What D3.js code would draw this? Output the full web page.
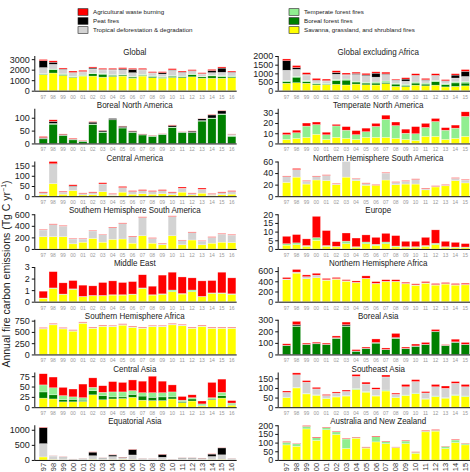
<!DOCTYPE html>
<html lang="en">
<head>
<meta charset="UTF-8">
<title>Annual fire carbon emissions by region</title>
<script src="https://d3js.org/d3.v7.min.js"></script>
<style>
  body { margin: 0; background: #fff; }
  svg { font-family: "Liberation Sans", Arial, sans-serif; display: block; }
  .ytick text { font-size: 9px; fill: #222; }
  .title { font-size: 9.4px; fill: #222; text-anchor: middle; }
  .xlab { font-size: 5px; fill: #999; text-anchor: middle; }
  .xlab-bottom { font-size: 7.5px; fill: #333; text-anchor: end; }
  .legend text { font-size: 6.2px; fill: #222; }
</style>
</head>
<body>
<div id="chart"></div>
<script>
// years shown on the x axis (1997-2016)
const years = ["97","98","99","00","01","02","03","04","05","06","07","08","09","10","11","12","13","14","15","16"];

// stack order, bottom to top
const keys = ["sav", "bor", "tem", "def", "peat", "agr"];
const labels = {
  agr: "Agricultural waste burning",
  peat: "Peat fires",
  def: "Tropical deforestation & degradation",
  tem: "Temperate forest fires",
  bor: "Boreal forest fires",
  sav: "Savanna, grassland, and shrubland fires"
};
const colors = {
  sav: "#ffff00", bor: "#008000", tem: "#90ee90",
  def: "#d3d3d3", peat: "#000000", agr: "#ff0000"
};

// Tg C per year, per region and fire type
const global = {
  sav: [1520,1680,1450,1260,1390,1390,1290,1350,1390,1190,1390,1230,1190,1260,1230,1320,1190,1190,1190,1230],
  bor: [50,320,90,60,40,220,280,120,100,110,80,130,80,120,100,200,130,220,150,100],
  tem: [50,60,60,60,60,60,60,50,50,60,80,50,60,60,60,60,50,60,80,70],
  def: [580,450,420,330,300,400,350,450,450,350,430,280,250,500,340,280,220,250,330,330],
  peat: [650,200,40,30,30,90,50,60,90,320,40,20,130,40,40,40,30,200,400,40],
  agr: [120,130,100,130,120,100,100,100,110,100,110,100,100,120,100,100,90,110,110,100]
};
const globalExAfrica = {
  sav: [430,460,430,330,340,370,330,380,340,330,400,250,230,320,280,320,220,250,280,250],
  bor: [100,320,90,60,40,220,280,120,100,110,80,130,80,120,100,200,130,200,160,100],
  tem: [50,50,60,50,50,60,60,50,50,60,80,50,60,60,60,60,50,60,80,60],
  def: [600,400,330,150,130,300,240,390,380,280,380,170,180,360,160,280,150,220,300,200],
  peat: [550,100,30,20,20,100,20,50,40,230,30,20,120,30,30,30,20,170,300,30],
  agr: [100,120,100,100,90,100,90,80,90,80,100,50,80,90,80,90,70,80,100,60]
};
const borealNA = {
  bor: [18,75,30,14,8,74,43,92,60,43,33,28,34,62,43,42,87,97,113,28],
  tem: [2,3,2,2,1,2,2,1,2,1,1,1,2,2,1,1,2,2,2,2],
  def: [0,0,0,0,0,0,0,0,0,0,0,0,0,0,0,0,0,0,0,5],
  peat: [3,8,3,1,1,7,5,4,5,4,2,1,1,6,1,5,7,12,12,1],
  agr: [4,6,2,3,2,2,1,0,1,1,1,1,1,2,1,1,1,2,2,1]
};
const temperateNA = {
  sav: [4,5,6,9,4,6,5,4,6,6,6,5,4,3,7,7,4,5,7,5],
  tem: [4.6,5.5,11,9.5,4.5,11.2,8,4.6,5.5,10.7,17.7,12.5,6,6.5,8.7,14.5,9,10,19.5,10],
  agr: [2,2.5,3,2.5,2.5,1.5,3.5,4,3.5,3,4,3.5,4,7,4,3,2.5,3,4.5,3]
};
const centralAmerica = {
  sav: [8,62,10,28,6,8,22,4,20,10,12,10,12,8,20,6,15,4,8,10],
  def: [9,95,10,20,7,9,38,6,22,13,15,13,15,9,19,7,19,6,9,13],
  peat: [0,2,0,2,0,0,0,0,0,0,0,0,0,0,0,0,0,0,0,0],
  agr: [4,13,4,6,3,4,6,3,6,4,5,4,5,4,6,3,6,3,4,4]
};
const nhSouthAmerica = {
  sav: [24,33,21,28,27,20,33,27,19,19,28,20,21,21,11,16,18,27,23,20],
  def: [10,13,5,6,9,1,28,3,3,0,12,4,5,8,2,1,1,4,5,4],
  agr: [1,2,1,1,1,1,1,1,1,1,1,1,1,1,1,1,1,1,1,1]
};
const shSouthAmerica = {
  sav: [211,211,211,89,117,183,117,167,172,100,228,100,72,228,72,155,72,100,117,111],
  def: [118,212,184,84,56,129,128,201,268,112,317,84,20,334,75,129,64,101,140,129],
  agr: [10,10,10,10,10,10,10,10,10,10,10,10,8,10,8,10,8,10,10,10]
};
const europe = {
  sav: [2.2,2.5,1.5,5,1.5,1.2,3,1,3,2,3,1.2,1,1,1.5,2.5,1,0.8,0.8,1],
  tem: [0.8,1,0.5,1.5,0.5,0.3,1.5,0.3,1,0.7,1,0.5,0.3,0.3,0.5,0.8,0.3,0.3,0.3,0.3],
  agr: [4.3,4.8,3.8,12.3,8.6,2.7,4.7,5,4.1,4,5,6,3.1,3.1,4.7,7.7,3.1,2.7,2,3]
};
const middleEast = {
  sav: [0.29,1.14,0.63,1.06,0.43,0.51,0.51,0.57,0.57,0.63,1.14,0.57,0.63,0.86,0.66,0.86,0.43,0.71,0.71,0.63],
  tem: [0.03,0.05,0.03,0.05,0.03,0.03,0.03,0.03,0.03,0.03,0.05,0.03,0.05,0.15,0.05,0.15,0.03,0.05,0.05,0.05],
  agr: [0.59,1.41,0.97,0.72,0.97,0.83,1.12,1.2,1.06,1.08,1.14,0.74,1.62,1.54,1.43,1.05,1.34,1.07,1.79,1.38]
};
const nhAfrica = {
  sav: [430,560,450,470,420,440,400,370,450,350,390,390,350,320,360,325,345,325,330,330],
  def: [15,20,40,50,10,10,10,10,10,10,10,10,10,10,10,10,10,10,10,10],
  agr: [30,52,35,37,26,25,21,27,46,34,31,31,21,20,24,21,20,21,22,20]
};
const shAfrica = {
  sav: [566,657,566,517,692,580,622,615,650,601,580,615,615,657,636,580,622,580,580,580],
  tem: [5,5,5,5,5,5,5,5,5,5,5,5,5,5,5,5,5,5,5,5],
  def: [12,12,12,12,12,12,12,12,12,12,12,12,12,12,12,12,12,12,12,12],
  agr: [12,12,12,12,12,12,12,12,12,12,12,12,12,12,12,12,12,12,12,12]
};
const borealAsia = {
  bor: [76,244,84,92,84,140,244,28,50,98,42,140,50,70,84,196,78,104,84,75],
  tem: [2,3,2,2,2,2,3,1,2,2,1,2,2,2,2,2,1,2,2,2],
  peat: [2,10,2,2,2,3,10,1,2,4,1,5,1,2,2,3,1,3,2,2],
  agr: [12,29,10,10,10,15,23,12,10,30,12,35,11,16,16,15,5,23,16,11]
};
const centralAsia = {
  sav: [22,20,13,13,14,30,18,20,21,24,17,16,16,20,11,15,3,18,22,5],
  bor: [15,10,5,6,3,10,10,5,4,7,10,8,9,5,3,5,1,2,6,2],
  tem: [17,17,10,6,6,8,8,12,12,9,8,11,10,12,3,3,4,3,8,3],
  agr: [27,26,20,19,33,23,16,25,23,26,28,40,28,17,9,7,7,37,32,6]
};
const southeastAsia = {
  sav: [50,100,69,62,45,53,58,92,78,58,84,50,61,70,42,55,47,61,55,45],
  tem: [2,3,3,2,2,2,2,5,3,2,5,2,2,3,2,3,2,3,3,2],
  def: [25,65,58,31,14,18,22,63,39,33,68,15,43,60,30,48,49,60,48,30],
  agr: [7,10,8,8,5,6,7,10,10,8,10,6,12,10,7,12,12,9,12,7]
};
const equatorialAsia = {
  sav: [100,20,10,5,5,20,10,15,20,15,5,5,10,3,8,8,8,15,20,5],
  def: [440,110,80,20,25,120,45,100,55,150,25,28,80,12,45,45,40,100,150,25],
  peat: [530,5,10,5,10,120,15,50,15,180,10,7,95,5,17,17,12,80,230,10],
  agr: [15,5,5,2,3,9,5,7,7,10,3,3,9,2,5,5,5,9,9,3]
};
const australia = {
  sav: [87,79,179,113,174,147,66,125,68,104,94,70,94,38,162,166,66,100,87,80],
  tem: [15,14,15,15,12,15,55,4,4,30,12,3,15,6,4,5,11,15,7,10],
  agr: [4,3,4,4,3,4,4,3,3,4,3,2,4,3,4,4,2,4,2,3]
};

// panel titles, data, y-axis top and tick values, column and row
const panels = [
  { title: "Global", data: global, ymax: 3300, ticks: [0,1000,2000,3000], col: 0, row: 0 },
  { title: "Boreal North America", data: borealNA, ymax: 135, ticks: [0,50,100], col: 0, row: 1 },
  { title: "Central America", data: centralAmerica, ymax: 170, ticks: [0,50,100,150], col: 0, row: 2 },
  { title: "Southern Hemisphere South America", data: shSouthAmerica, ymax: 600, ticks: [0,200,400,600], col: 0, row: 3 },
  { title: "Middle East", data: middleEast, ymax: 3, ticks: [0,1,2,3], col: 0, row: 4 },
  { title: "Southern Hemisphere Africa", data: shAfrica, ymax: 770, ticks: [0,250,500,750], col: 0, row: 5 },
  { title: "Central Asia", data: centralAsia, ymax: 84, ticks: [0,25,50,75], col: 0, row: 6 },
  { title: "Equatorial Asia", data: equatorialAsia, ymax: 1150, ticks: [0,500,1000], col: 0, row: 7 },
  { title: "Global excluding Africa", data: globalExAfrica, ymax: 2000, ticks: [0,500,1000,1500,2000], col: 1, row: 0 },
  { title: "Temperate North America", data: temperateNA, ymax: 34, ticks: [0,10,20,30], col: 1, row: 1 },
  { title: "Northern Hemisphere South America", data: nhSouthAmerica, ymax: 60, ticks: [0,20,40,60], col: 1, row: 2 },
  { title: "Europe", data: europe, ymax: 20, ticks: [0,5,10,15,20], col: 1, row: 3 },
  { title: "Northern Hemisphere Africa", data: nhAfrica, ymax: 680, ticks: [0,200,400,600], col: 1, row: 4 },
  { title: "Boreal Asia", data: borealAsia, ymax: 300, ticks: [0,100,200,300], col: 1, row: 5 },
  { title: "Southeast Asia", data: southeastAsia, ymax: 180, ticks: [0,50,100,150], col: 1, row: 6 },
  { title: "Australia and New Zealand", data: australia, ymax: 200, ticks: [0,50,100,150,200], col: 1, row: 7 }
];

const width = 470, height = 472;
const colStart = [38.3, 281.7];   // left edge of the bar band per column
const bandWidth = 198.4;
const rowStep = 52.75;

const svg = d3.select("#chart").append("svg")
  .attr("width", width)
  .attr("height", height);

// legend
const legendCols = [
  { x: 78, items: ["agr", "peat", "def"] },
  { x: 289, items: ["tem", "bor", "sav"] }
];
legendCols.forEach(c => {
  const g = svg.append("g").attr("class", "legend");
  c.items.forEach((k, i) => {
    const cy = 12 + i * 9;
    g.append("rect")
      .attr("x", c.x).attr("y", cy - 3.3)
      .attr("width", 10).attr("height", 6.6)
      .attr("fill", colors[k]).attr("stroke", "#222").attr("stroke-width", 0.6);
    g.append("text")
      .attr("x", c.x + 15).attr("y", cy + 2.2)
      .text(labels[k]);
  });
});

// shared y label
svg.append("text")
  .attr("transform", "translate(10,274) rotate(-90)")
  .attr("text-anchor", "middle")
  .style("font-size", "10.5px")
  .style("fill", "#222")
  .call(t => {
    t.append("tspan").text("Annual fire carbon emissions (Tg C yr");
    t.append("tspan").attr("dy", -3.8).style("font-size", "7px").text("\u22121");
    t.append("tspan").attr("dy", 3.8).text(")");
  });

panels.forEach(p => {
  const titleY = 51.5 + rowStep * p.row;
  const top = titleY + 4.5;
  const bottom = titleY + 39.2;
  const x0 = colStart[p.col];
  const axisX = x0 - 3.5;

  const x = d3.scaleBand()
    .domain(years)
    .range([x0, x0 + bandWidth])
    .paddingInner(0.17)
    .paddingOuter(0.08);

  const y = d3.scaleLinear()
    .domain([0, p.ymax])
    .range([bottom, top])
    .clamp(true);

  const rows = years.map((yr, i) => {
    const r = { year: yr };
    keys.forEach(k => { r[k] = p.data[k] ? p.data[k][i] : 0; });
    return r;
  });
  const series = d3.stack().keys(keys)(rows);

  const g = svg.append("g");

  // the reference titles use a narrower face; squeeze horizontally
  g.append("text")
    .attr("class", "title")
    .attr("transform", `translate(${axisX + 100},${titleY + 3.5}) scale(0.85,1)`)
    .text(p.title);

  g.selectAll("g.layer")
    .data(series)
    .join("g")
    .attr("class", "layer")
    .attr("fill", s => colors[s.key])
    .selectAll("rect")
    .data(s => s.filter(d => d[1] - d[0] > 0))
    .join("rect")
    .attr("x", d => x(d.data.year))
    .attr("y", d => y(d[1]))
    .attr("width", x.bandwidth())
    .attr("height", d => Math.max(0, y(d[0]) - y(d[1])))
    .attr("stroke", "#fff")
    .attr("stroke-opacity", 0.6)
    .attr("stroke-width", 0.5);

  // y axis
  const yAxis = g.append("g")
    .attr("class", "ytick")
    .attr("transform", `translate(${axisX},0)`)
    .call(d3.axisLeft(y).tickValues(p.ticks).tickFormat(d3.format("d"))
      .tickSize(3).tickPadding(2).tickSizeOuter(0));
  yAxis.select(".domain").attr("stroke", "#111").attr("d", `M0,${top}V${bottom}`);
  yAxis.selectAll(".tick line").attr("stroke", "#111");

  // x axis line
  g.append("line")
    .attr("x1", axisX).attr("x2", x0 + bandWidth)
    .attr("y1", bottom + 0.5).attr("y2", bottom + 0.5)
    .attr("stroke", "#111").attr("stroke-width", 1);

  // year labels (the last right-hand year falls past the page edge)
  const shown = years.filter(d => x(d) + x.bandwidth() / 2 + 4 < width);
  if (p.row === 7) {
    g.selectAll("text.xlab-bottom")
      .data(shown)
      .join("text")
      .attr("class", "xlab-bottom")
      .attr("transform", d => `translate(${x(d) + x.bandwidth() / 2 + 2.6},${bottom + 3}) rotate(-90)`)
      .text(d => d);
  } else {
    g.selectAll("text.xlab")
      .data(shown)
      .join("text")
      .attr("class", "xlab")
      .attr("x", d => x(d) + x.bandwidth() / 2)
      .attr("y", bottom + 8)
      .text(d => d);
  }
});
</script>
</body>
</html>
